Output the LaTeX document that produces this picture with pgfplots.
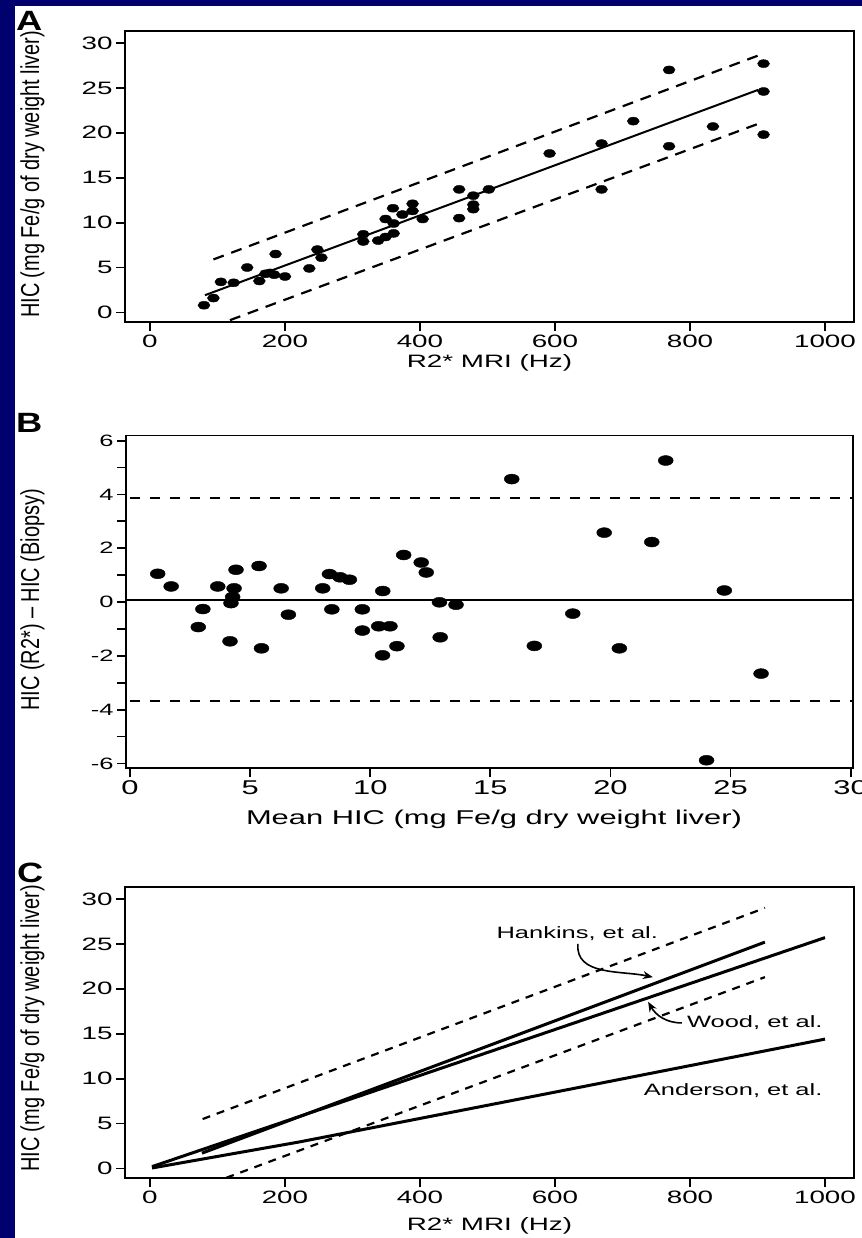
\documentclass[border=0pt]{standalone}
\usepackage{fontspec}
\setmainfont{Liberation Sans}[FakeStretch=1.55]
\newfontfamily\ylabfont{Liberation Sans}
\newfontfamily\panelfont{Liberation Sans Bold}[FakeStretch=1.3]
\usepackage{graphicx}
\usepackage{pgfplots}
\pgfplotsset{compat=1.18}
\usetikzlibrary{arrows.meta}
\definecolor{navybg}{RGB}{0,0,110}

\pgfplotsset{
  /pgf/number format/assume math mode=true,
  /pgf/number format/1000 sep={},
  myaxis/.style={
    scale only axis,
    axis line style={line width=1.8bp},
    tick style={line width=1.8bp, black},
    major tick length=9bp,
    tick align=outside,
    tick pos=left,
    ticklabel style={font=\fontsize{18}{20}\selectfont},
    xlabel style={font=\fontsize{18}{21}\selectfont, anchor=center},
    ylabel style={font=\fontsize{20}{24}\selectfont, anchor=center},
  },
}

\begin{document}
\begin{tikzpicture}[x=1bp,y=1bp]
\useasboundingbox (0,0) rectangle (862,-1238);
\fill[navybg] (0,0) rectangle (862,-1238);
\fill[white] (15,-6) rectangle (862,-1238);

\node[anchor=base west, inner sep=0, font={\fontsize{28}{30}\panelfont}] at (16,-30) {A};
\node[anchor=base west, inner sep=0, font={\fontsize{28}{30}\panelfont}] at (16,-432) {B};
\node[anchor=base west, inner sep=0, font={\fontsize{28}{30}\panelfont}] at (17,-882) {C};

% ---------------- Panel A ----------------
\begin{axis}[myaxis,
  at={(125bp,-322.3bp)}, anchor=south west,
  width=729bp, height=291bp,
  xmin=-37, xmax=1043, ymin=-1.1, ymax=31.3,
  xtick={0,200,...,1000}, ytick={0,5,...,30},
  xlabel={R2* MRI (Hz)},
  xlabel style={at={(axis description cs:0.5,-0.139)}},
  ylabel={\ylabfont\scalebox{1}[1.3]{HIC (mg Fe/g of dry weight liver)}},
  ylabel style={at={(axis description cs:-0.127,0.508)}},
]
\addplot[only marks, mark=*, mark size=4bp, mark options={fill=black, draw=black, xscale=1.5}] coordinates {
(80,0.8) (94,1.6) (105,3.4) (124,3.3) (144,5.0) (162,3.5) (171,4.3) (178,4.4)
(184,4.2) (186,6.5) (200,4.0) (236,4.9) (248,7.0) (254,6.1) (316,8.7) (316,7.9)
(338,8.0) (349,10.4) (349,8.4) (360,11.6) (361,9.9) (361,8.8) (374,10.9) (389,12.1)
(389,11.3) (404,10.4) (458,13.7) (458,10.5) (479,13.0) (479,12.0) (479,11.5) (502,13.7)
(592,17.7) (669,18.8) (669,13.7) (716,21.3) (769,27.0) (769,18.5) (834,20.7)
(909,27.7) (909,24.6) (909,19.8)
};
\addplot[black, line width=2bp] coordinates {(81.5,1.92) (901,24.78)};
\addplot[black, line width=2.2bp, dash pattern=on 11bp off 8bp] coordinates {(94,5.9) (901,28.6)};
\addplot[black, line width=2.2bp, dash pattern=on 11bp off 8bp] coordinates {(118.5,-0.86) (901,21.0)};
\end{axis}

% ---------------- Panel B ----------------
\begin{axis}[myaxis,
  at={(126bp,-768.3bp)}, anchor=south west,
  width=727.3bp, height=332.8bp,
  xmin=-0.17, xmax=30.11, ymin=-6.18, ymax=6.19,
  xtick={0,5,...,30}, ytick={-6,-5,...,6},
  yticklabels={-6,,-4,,-2,,0,,2,,4,,6},
  xticklabel style={font=\fontsize{20}{22}\selectfont},
  yticklabel style={font=\fontsize{16.5}{19}\selectfont},
  xlabel={Mean HIC (mg Fe/g dry weight liver)},
  xlabel style={font=\fontsize{20}{23}\selectfont, at={(axis description cs:0.506,-0.152)}},
  ylabel={\ylabfont\scalebox{1}[1.3]{HIC (R2*) – HIC (Biopsy)}},
  ylabel style={at={(axis description cs:-0.1286,0.506)}},
]
\addplot[black, line width=2.6bp] coordinates {(-0.17,0.07) (30.11,0.07)};
\addplot[black, line width=2.4bp, dash pattern=on 10bp off 10bp] coordinates {(0,3.86) (30.11,3.86)};
\addplot[black, line width=2.4bp, dash pattern=on 10bp off 10bp] coordinates {(0,-3.67) (30.11,-3.67)};
\addplot[only marks, mark=*, mark size=5bp, mark options={fill=black, draw=black, xscale=1.5}] coordinates {
(1.15,1.05) (1.71,0.58) (2.84,-0.93) (3.03,-0.26) (3.65,0.58) (4.33,0.51) (4.27,0.19)
(4.20,-0.04) (4.16,-1.46) (4.41,1.20) (5.37,1.34) (5.47,-1.72) (6.29,0.51) (6.59,-0.47)
(8.02,0.51) (8.30,1.04) (8.40,-0.27) (8.74,0.92) (9.13,0.83) (9.67,-0.27) (9.67,-1.06)
(10.35,-0.90) (10.82,-0.90) (10.52,0.41) (10.51,-1.98) (11.11,-1.64) (11.39,1.75)
(12.12,1.47) (12.33,1.10) (12.88,-0.01) (12.91,-1.31) (13.57,-0.10)
(15.89,4.57) (16.83,-1.63) (18.43,-0.43) (19.74,2.58) (20.37,-1.72) (21.72,2.23)
(22.30,5.26) (24.00,-5.88) (24.74,0.43) (26.27,-2.66)
};
\end{axis}

% ---------------- Panel C ----------------
\begin{axis}[myaxis,
  at={(125bp,-1178.3bp)}, anchor=south west,
  width=729bp, height=291bp,
  xmin=-37, xmax=1043, ymin=-1.1, ymax=31.3,
  xtick={0,200,...,1000}, ytick={0,5,...,30},
  xlabel={R2* MRI (Hz)},
  xlabel style={at={(axis description cs:0.5,-0.163)}},
  ylabel={\ylabfont\scalebox{1}[1.3]{HIC (mg Fe/g of dry weight liver)}},
  ylabel style={at={(axis description cs:-0.127,0.515)}},
]
\addplot[black, line width=2.2bp, dash pattern=on 8bp off 7bp] coordinates {(78,5.5) (911,29.0)};
\addplot[black, line width=2.2bp, dash pattern=on 8bp off 7bp] coordinates {(113,-1.04) (911,21.3)};
\addplot[black, line width=3bp] coordinates {(77,1.7) (911,25.2)};
\addplot[black, line width=3bp] coordinates {(3,0.2) (1000,25.7)};
\addplot[black, line width=3bp] coordinates {(3,0.05) (222,2.96) (607,8.6) (1000,14.4)};
\node[font=\fontsize{16.5}{19}\selectfont] at (axis cs:633,26.2) {Hankins, et al.};
\node[font=\fontsize{16.5}{19}\selectfont] at (axis cs:896,16.2) {Wood, et al.};
\node[font=\fontsize{16.5}{19}\selectfont] at (axis cs:864,8.7) {Anderson, et al.};
\draw[black, line width=1.6bp, -{Stealth[length=10bp,width=8bp]}] (axis cs:634,25.0) to[out=-95,in=168] (axis cs:745,21.3);
\draw[black, line width=1.6bp, -{Stealth[length=10bp,width=8bp]}] (axis cs:788,16.2) to[out=180,in=-60] (axis cs:738,18.55);
\end{axis}
\end{tikzpicture}
\end{document}
